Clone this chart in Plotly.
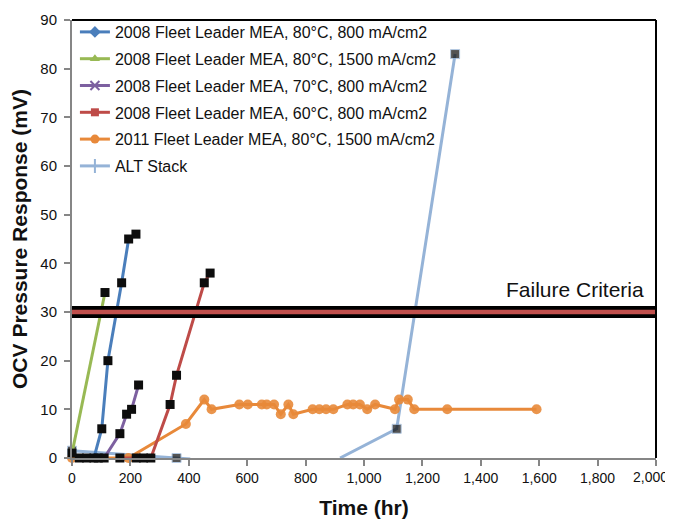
import plotly.graph_objects as go

# ---- data ----
blue_x = [25, 50, 75, 102, 123, 170, 194, 219]
blue_y = [0, 0, 0, 6, 20, 36, 45, 46]

green_x = [0, 113]
green_y = [1, 34]

purple_x = [90, 110, 164, 187, 204, 228]
purple_y = [0, 0, 5, 9, 10, 15]

red_x = [164, 220, 245, 270, 336, 358, 453, 473]
red_y = [0, 0, 0, 0, 11, 17, 36, 38]

orange_x = [0, 193, 390, 453, 478, 573, 602, 650, 667, 692, 715, 741, 758,
            824, 847, 870, 895, 943, 963, 986, 1011, 1038, 1106, 1120, 1150,
            1172, 1285, 1591]
orange_y = [0, 0, 7, 12, 10, 11, 11, 11, 11, 11, 9, 11, 9,
            10, 10, 10, 10, 11, 11, 11, 10, 11, 10, 12, 12,
            10, 10, 10]

alt_x = [0, 358, 405, None, 918, 1112, 1312]
alt_y = [1.5, 0, -0.2, None, 0, 6, 83]
alt_marker_size = [9, 9, 0, 0, 0, 9, 9]

failure_x = [0, 2000]
failure_y = [30, 30]
failure_label = "Failure Criteria"

series_names = [
    "2008 Fleet Leader MEA, 80°C, 800 mA/cm2",
    "2008 Fleet Leader MEA, 80°C, 1500 mA/cm2",
    "2008 Fleet Leader MEA, 70°C, 800 mA/cm2",
    "2008 Fleet Leader MEA, 60°C, 800 mA/cm2",
    "2011 Fleet Leader MEA, 80°C, 1500 mA/cm2",
    "ALT Stack",
]

x_ticks = [0, 200, 400, 600, 800, 1000, 1200, 1400, 1600, 1800, 2000]
x_ticktext = ["0", "200", "400", "600", "800", "1,000", "1,200", "1,400", "1,600", "1,800", "2,000"]
y_ticks = [0, 10, 20, 30, 40, 50, 60, 70, 80, 90]

# ---- styles ----
C_BLUE = "#4A7EBB"
C_GREEN = "#98B954"
C_PURPLE = "#7D60A0"
C_RED = "#BE4B48"
C_ORANGE = "#E8893A"
C_ALT = "#95B3D7"
SQ = dict(symbol="square", size=9, color="#0d0d0d", line=dict(width=0))

fig = go.Figure()

data_series = [
    (blue_x, blue_y, C_BLUE, SQ),
    (green_x, green_y, C_GREEN, SQ),
    (purple_x, purple_y, C_PURPLE, SQ),
    (red_x, red_y, C_RED, SQ),
    (orange_x, orange_y, C_ORANGE, dict(symbol="circle", size=10, color=C_ORANGE, opacity=0.9)),
    (alt_x, alt_y, C_ALT, dict(symbol="square", size=alt_marker_size, color="#0d0d0d")),
]
order = [5, 4, 0, 1, 2, 3]
for i in order:
    xs, ys, col, mk = data_series[i]
    fig.add_trace(go.Scatter(x=xs, y=ys, mode="lines+markers",
                             line=dict(color=col, width=3), marker=mk,
                             showlegend=False, cliponaxis=False, hoverinfo="skip"))

# failure band on top
fig.add_trace(go.Scatter(x=failure_x, y=failure_y, mode="lines",
                         line=dict(color="#000000", width=12), showlegend=False,
                         cliponaxis=False, hoverinfo="skip"))
fig.add_trace(go.Scatter(x=failure_x, y=failure_y, mode="lines",
                         line=dict(color="#C0504D", width=4.5), showlegend=False,
                         cliponaxis=False, hoverinfo="skip"))

# legend entries
legend_markers = [
    dict(symbol="diamond", size=9, color=C_BLUE),
    dict(symbol="triangle-up", size=9, color=C_GREEN),
    dict(symbol="x-thin", size=9, color=C_PURPLE, line=dict(width=2, color=C_PURPLE)),
    dict(symbol="square", size=8, color=C_RED),
    dict(symbol="circle", size=9, color=C_ORANGE),
    dict(symbol="cross-thin", size=10, color=C_ALT, line=dict(width=2, color=C_ALT)),
]
legend_colors = [C_BLUE, C_GREEN, C_PURPLE, C_RED, C_ORANGE, C_ALT]
for k, name in enumerate(series_names):
    fig.add_trace(go.Scatter(x=[None], y=[None], mode="lines+markers", name=name,
                             line=dict(color=legend_colors[k], width=3),
                             marker=legend_markers[k], legendgroup=f"g{k}"))

fig.add_annotation(x=failure_x[1] * 0.9825, y=failure_y[0] + 4.7, text=failure_label,
                   showarrow=False, xanchor="right", yanchor="middle",
                   font=dict(family="Liberation Sans, Arial", size=21, color="#111"))

TICKFONT = dict(family="Liberation Sans Narrow, Arial Narrow, Liberation Sans", size=14, color="#111")

# last x tick label drawn as a right-aligned text so it stays inside the window
shown_ticktext = x_ticktext[:-1] + [""]
fig.add_annotation(x=x_ticks[-1], xref="x", y=0, yref="paper", text=x_ticktext[-1],
                   showarrow=False, xanchor="right", yanchor="top", xshift=14, yshift=-9,
                   font=TICKFONT)

# the page adds an 8px body margin, so the figure is sized to fit the window without scrolling
fig.update_layout(
    width=665, height=511,
    margin=dict(l=64, r=17, t=12, b=61, autoexpand=False),
    paper_bgcolor="white", plot_bgcolor="white",
    font=dict(family="Liberation Sans, Arial", color="#111"),
    legend=dict(x=0.005, y=0.9863, yref="container", xanchor="left", yanchor="top",
                bgcolor="rgba(0,0,0,0)", font=dict(size=16, family="Liberation Sans, Arial", color="#111"),
                itemwidth=30, tracegroupgap=3),
    xaxis=dict(range=[0, 2000], tickvals=x_ticks, ticktext=shown_ticktext, automargin=False,
               showgrid=False, zeroline=False, showline=True, linecolor="#868686", linewidth=2,
               ticks="outside", ticklen=6, tickcolor="#868686", tickwidth=1.5,
               tickfont=TICKFONT,
               title=dict(text="<b>Time (hr)</b>", font=dict(size=21, family="Liberation Sans, Arial"), standoff=20)),
    yaxis=dict(range=[0, 90], tickvals=y_ticks, automargin=False, ticklabelstandoff=4,
               showgrid=False, zeroline=False, showline=True, linecolor="#868686", linewidth=2,
               ticks="outside", ticklen=6, tickcolor="#868686", tickwidth=1.5,
               tickfont=dict(TICKFONT, size=15),
               title=dict(text="<b>OCV Pressure Response (mV)</b>", font=dict(size=21, family="Liberation Sans, Arial"), standoff=7)),
)

# top and right frame lines
fig.add_shape(type="line", xref="paper", yref="paper", x0=0, x1=1, y0=1, y1=1,
              line=dict(color="#000", width=2))
fig.add_shape(type="line", xref="paper", yref="paper", x0=1, x1=1, y0=0, y1=1,
              line=dict(color="#000", width=2))

fig.write_html("out.html")
